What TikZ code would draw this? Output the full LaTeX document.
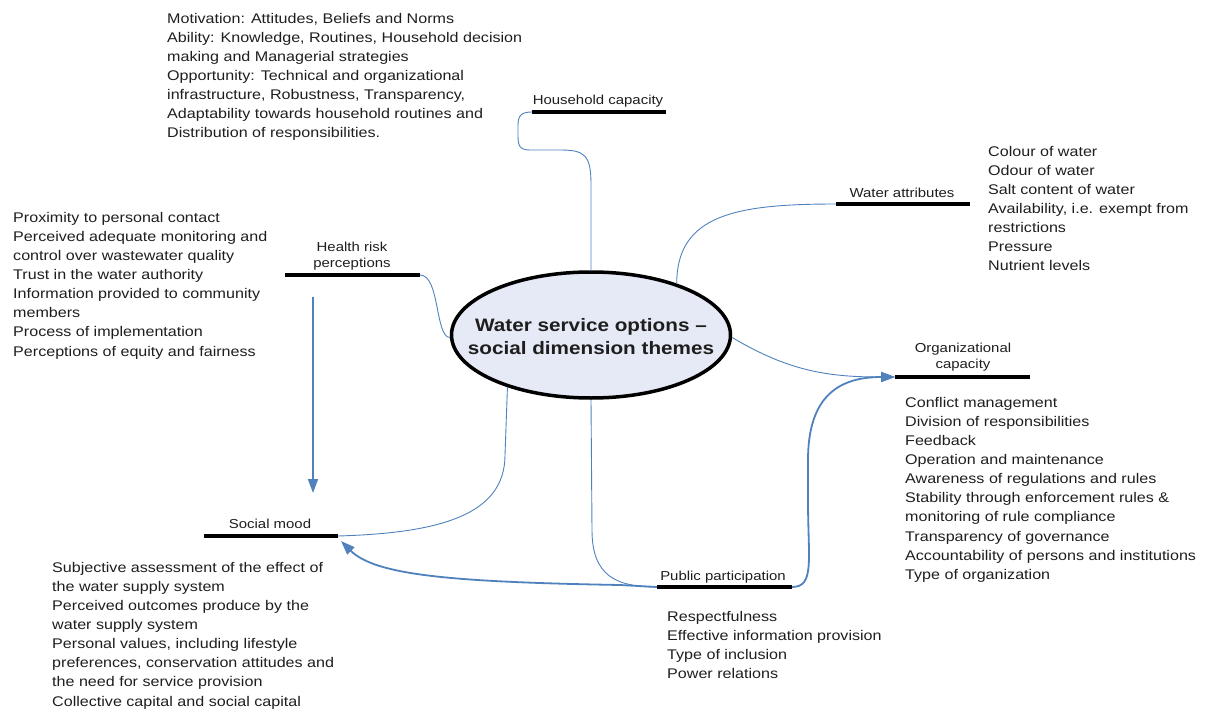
\documentclass[tikz,border=0pt]{standalone}
\usepackage{fontspec}
\setmainfont{Liberation Sans}[FakeStretch=1.15]
\usetikzlibrary{arrows.meta,shapes.geometric}
\definecolor{conn}{HTML}{4F81BD}
\definecolor{ellfill}{HTML}{E6EAF6}
\definecolor{txt}{HTML}{1E1E1E}
\begin{document}
\begin{tikzpicture}[x=1pt,y=-1pt,
  bar/.style={line width=3.8pt,black},
  thinc/.style={conn,line width=0.9pt},
  thickc/.style={conn,line width=1.8pt},
  arr/.style={-{Triangle[length=14pt,width=10pt]}},
  lab/.style={font=\fontsize{13}{16.5}\selectfont,align=center,inner sep=0pt,text=txt},
  body/.style={font=\fontsize{14}{19.1}\selectfont,align=left,inner sep=0pt,anchor=north west,text=txt},
]
\useasboundingbox (0,0) rectangle (1211,709);

% central ellipse
\node[ellipse,draw=black,line width=3.5pt,fill=ellfill,minimum width=279pt,minimum height=126pt,
  inner sep=0pt] (E) at (591,335) {};
\node[font=\fontsize{18}{23}\selectfont\bfseries,align=center,text=txt,inner sep=0pt] (Etxt) at (591,337)
  {Water service options --\\social dimension themes};

% bars
\coordinate (hcL) at (532,112); \coordinate (hcR) at (666,112);
\coordinate (waL) at (836,204); \coordinate (waR) at (970,204);
\coordinate (hrL) at (285,275); \coordinate (hrR) at (420,275);
\coordinate (ocL) at (895,377); \coordinate (ocR) at (1030,377);
\coordinate (smL) at (204,536); \coordinate (smR) at (338,536);
\coordinate (ppL) at (657,587); \coordinate (ppR) at (792,587);
\draw[bar] (hcL) -- (hcR);
\draw[bar] (waL) -- (waR);
\draw[bar] (hrL) -- (hrR);
\draw[bar] (ocL) -- (ocR);
\draw[bar] (smL) -- (smR);
\draw[bar] (ppL) -- (ppR);

% labels
\node[lab,anchor=base] (hcLab) at (598,105) {Household capacity};
\node[lab,anchor=base] (waLab) at (902,197) {Water attributes};
\node[lab,anchor=north] (hrLab) at (352,241.5) {Health risk\\perceptions};
\node[lab,anchor=north] (ocLab) at (963,342.5) {Organizational\\capacity};
\node[lab,anchor=base] (smLab) at (270,528) {Social mood};
\node[lab,anchor=base] (ppLab) at (723,580) {Public participation};

% connectors
\draw[thinc] (E.90) -- (591,185) .. controls (591,155) and (585,150) .. (560,150) -- (530,150)
  .. controls (519,150) and (518,145) .. (518,135) -- (518,125) .. controls (518,115) and (522,112) .. (hcL);
\draw[thinc] (E.31) .. controls (677,215) and (735,204) .. (waL);
\draw[thinc] (hrR) .. controls (440,275) and (435,337) .. (E.181);
\draw[thinc,arr] (E.359) .. controls (790,372) and (830,377) .. (ocL);
\draw[thickc,arr] (ppR) .. controls (815,587) and (808,560) .. (808,500) -- (808,460)
  .. controls (808,395) and (840,377) .. (ocL);
\draw[thinc] (E.270) -- (592,530) .. controls (592,575) and (615,587) .. (ppL);
\draw[thinc] (E.212) -- (505,455) .. controls (505,515) and (440,533) .. (smR);
\coordinate (smTip) at (341,541);
\draw[thickc,arr] (ppL) -- (620,585) .. controls (450,582) and (375,575) .. (smTip);
\coordinate (hrDown) at (313,297);
\coordinate (smTop) at (313,493);
\draw[thickc,arr] (hrDown) -- (smTop);

% text blocks
\node[body] (hcText) at (167,13) {Motivation: Attitudes, Beliefs and Norms\\
Ability: Knowledge, Routines, Household decision\\
making and Managerial strategies\\
Opportunity: Technical and organizational\\
infrastructure, Robustness, Transparency,\\
Adaptability towards household routines and\\
Distribution of responsibilities.};

\node[body] (hrText) at (13,212) {Proximity to personal contact\\
Perceived adequate monitoring and\\
control over wastewater quality\\
Trust in the water authority\\
Information provided to community\\
members\\
Process of implementation\\
Perceptions of equity and fairness};

\node[body] (waText) at (988,146) {Colour of water\\
Odour of water\\
Salt content of water\\
Availability, i.e. exempt from\\
restrictions\\
Pressure\\
Nutrient levels};

\node[body] (ocText) at (905,397) {Conflict management\\
Division of responsibilities\\
Feedback\\
Operation and maintenance\\
Awareness of regulations and rules\\
Stability through enforcement rules \&\\
monitoring of rule compliance\\
Transparency of governance\\
Accountability of persons and institutions\\
Type of organization};

\node[body] (smText) at (52,562) {Subjective assessment of the effect of\\
the water supply system\\
Perceived outcomes produce by the\\
water supply system\\
Personal values, including lifestyle\\
preferences, conservation attitudes and\\
the need for service provision\\
Collective capital and social capital};

\node[body] (ppText) at (667,611) {Respectfulness\\
Effective information provision\\
Type of inclusion\\
Power relations};
\end{tikzpicture}
\end{document}
